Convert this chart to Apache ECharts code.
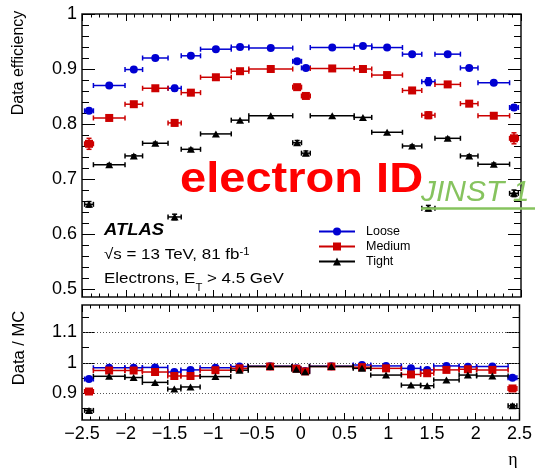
<!DOCTYPE html>
<html>
<head>
<meta charset="utf-8">
<script src="https://cdn.jsdelivr.net/npm/echarts@6/dist/echarts.min.js"></script>
<style>
  html, body { margin: 0; padding: 0; background: #fff; }
  #chart { width: 535px; height: 468px; }
</style>
</head>
<body>
<div id="chart"></div>
<script>
// ---- data ----
const binEdges = [-2.47, -2.37, -2.01, -1.81, -1.52, -1.37, -1.15, -0.8, -0.6, -0.1, 0,
                  0.1, 0.6, 0.8, 1.15, 1.37, 1.52, 1.81, 2.01, 2.37, 2.47];
const etaCenters = [-2.42, -2.19, -1.91, -1.665, -1.445, -1.26, -0.975, -0.7, -0.35, -0.05,
                    0.05, 0.35, 0.7, 0.975, 1.26, 1.445, 1.665, 1.91, 2.19, 2.42];

// data efficiency (upper panel)
const effLoose  = [0.824, 0.870, 0.899, 0.920, 0.865, 0.924, 0.936, 0.940, 0.938, 0.914,
                   0.902, 0.939, 0.942, 0.939, 0.927, 0.877, 0.927, 0.902, 0.875, 0.830];
const effMedium = [0.764, 0.811, 0.836, 0.865, 0.802, 0.857, 0.885, 0.896, 0.900, 0.867,
                   0.851, 0.901, 0.900, 0.889, 0.861, 0.816, 0.872, 0.837, 0.815, 0.774];
const effTight  = [0.654, 0.726, 0.742, 0.765, 0.631, 0.754, 0.782, 0.807, 0.815, 0.766,
                   0.747, 0.815, 0.812, 0.785, 0.760, 0.647, 0.774, 0.742, 0.727, 0.674];
const effLooseErr  = [0.004, 0.001, 0.002, 0.002, 0.005, 0.002, 0.001, 0.001, 0.001, 0.002,
                      0.002, 0.001, 0.001, 0.001, 0.002, 0.007, 0.002, 0.002, 0.001, 0.005];
const effMediumErr = [0.010, 0.002, 0.002, 0.002, 0.005, 0.002, 0.001, 0.001, 0.001, 0.002,
                      0.002, 0.001, 0.001, 0.001, 0.002, 0.006, 0.002, 0.002, 0.002, 0.010];
const effTightErr  = [0.005, 0.002, 0.002, 0.002, 0.005, 0.002, 0.001, 0.001, 0.001, 0.004,
                      0.004, 0.001, 0.001, 0.001, 0.002, 0.005, 0.002, 0.002, 0.002, 0.006];

// data / MC (lower panel)
const sfLoose  = [0.947, 0.984, 0.984, 0.985, 0.970, 0.977, 0.984, 0.988, 0.989, 0.982,
                  0.973, 0.989, 0.993, 0.990, 0.982, 0.977, 0.990, 0.987, 0.988, 0.951];
const sfMedium = [0.906, 0.975, 0.975, 0.970, 0.957, 0.957, 0.976, 0.982, 0.988, 0.981,
                  0.972, 0.988, 0.986, 0.982, 0.962, 0.966, 0.977, 0.979, 0.977, 0.916];
const sfTight  = [0.844, 0.956, 0.952, 0.936, 0.914, 0.921, 0.955, 0.976, 0.988, 0.979,
                  0.971, 0.988, 0.982, 0.960, 0.927, 0.925, 0.944, 0.960, 0.957, 0.859];
const sfLooseErr  = [0.003, 0.001, 0.001, 0.001, 0.002, 0.001, 0.001, 0.001, 0.001, 0.002,
                     0.002, 0.001, 0.001, 0.001, 0.001, 0.003, 0.001, 0.001, 0.001, 0.003];
const sfMediumErr = [0.004, 0.001, 0.001, 0.001, 0.002, 0.001, 0.001, 0.001, 0.001, 0.002,
                     0.002, 0.001, 0.001, 0.001, 0.001, 0.003, 0.001, 0.001, 0.001, 0.004];
const sfTightErr  = [0.005, 0.002, 0.002, 0.002, 0.003, 0.002, 0.001, 0.001, 0.001, 0.003,
                     0.003, 0.001, 0.001, 0.002, 0.002, 0.003, 0.002, 0.002, 0.002, 0.005];

const ratioGuides = [0.9, 1.0, 1.1];

// tick values
const effMajor = [0.5, 0.6, 0.7, 0.8, 0.9, 1.0];
const ratioMajor = [0.9, 1.0, 1.1];
const ratioMinor = [0.85, 0.95, 1.05, 1.15];

const FONT = '"Liberation Sans", Arial, Helvetica, sans-serif';
const BLUE = '#0000d2', RED = '#cc0000', BLACK = '#000000';

function steps(a, b, s) {
  const out = [];
  for (let v = a; v <= b + 1e-9; v += s) out.push(Math.round(v * 1000) / 1000);
  return out;
}
const effMinor = steps(0.5, 1.0, 0.02);

function fmtNum(v) {
  const r = Math.round(v * 100) / 100;
  return r < 0 ? '\u2212' + (-r) : String(r);
}

function yAx(grid, pos, min, max, ticks, len, labels) {
  return {
    type: 'value', gridIndex: grid, position: pos, min: min, max: max,
    axisLine: { show: false, onZero: false },
    splitLine: { show: false },
    axisTick: { show: true, inside: true, length: len, customValues: ticks,
                lineStyle: { color: '#000', width: 1 } },
    axisLabel: { show: labels, customValues: ticks, margin: 5, fontSize: 18,
                 fontFamily: FONT, color: '#000', formatter: fmtNum }
  };
}

function xAx(grid, pos, labels) {
  return {
    type: 'value', gridIndex: grid, position: pos, min: -2.5, max: 2.5, interval: 0.5,
    axisLine: { show: false, onZero: false },
    splitLine: { show: false },
    axisTick: { show: true, inside: true, length: 7, lineStyle: { color: '#000', width: 1 } },
    minorTick: { show: true, splitNumber: 5, length: 3.5, lineStyle: { color: '#000', width: 1 } },
    axisLabel: { show: labels, margin: 5, fontSize: 18, fontFamily: FONT, color: '#000',
                 showMinLabel: true, showMaxLabel: true, formatter: fmtNum }
  };
}

function rows(vals, errs) {
  return etaCenters.map((x, i) => [x, vals[i], binEdges[i], binEdges[i + 1], errs[i]]);
}

function errBars(name, vals, errs, color, xi, yi) {
  return {
    type: 'custom', name: name + ' err', xAxisIndex: xi, yAxisIndex: yi,
    data: rows(vals, errs), encode: { x: 0, y: 1 }, silent: true, z: 2,
    renderItem: function (params, api) {
      const x = api.value(0), y = api.value(1);
      const lo = api.value(2), hi = api.value(3), e = api.value(4);
      const pL = api.coord([lo, y]), pR = api.coord([hi, y]);
      const pT = api.coord([x, y + e]), pB = api.coord([x, y - e]);
      const st = { stroke: color, lineWidth: 1.5 };
      const c = 2.5;
      const seg = (x1, y1, x2, y2) => ({ type: 'line', shape: { x1, y1, x2, y2 }, style: st });
      const kids = [
        seg(pL[0], pL[1], pR[0], pR[1]),
        seg(pL[0], pL[1] - c, pL[0], pL[1] + c),
        seg(pR[0], pR[1] - c, pR[0], pR[1] + c)
      ];
      if (pB[1] - pT[1] > 2) {
        kids.push(seg(pT[0], pT[1], pB[0], pB[1]));
        kids.push(seg(pT[0] - c, pT[1], pT[0] + c, pT[1]));
        kids.push(seg(pB[0] - c, pB[1], pB[0] + c, pB[1]));
      }
      return { type: 'group', children: kids };
    }
  };
}

function markers(name, vals, color, symbol, size, xi, yi, extra) {
  return Object.assign({
    type: 'line', name: name, xAxisIndex: xi, yAxisIndex: yi,
    data: etaCenters.map((x, i) => [x, vals[i]]),
    symbol: symbol, symbolSize: size, showSymbol: true, z: 3,
    itemStyle: { color: color }, lineStyle: { opacity: 0, width: 0 },
    emphasis: { disabled: true }, silent: true
  }, extra || {});
}

const chart = echarts.init(document.getElementById('chart'), null, { renderer: 'canvas' });

const option = {
  animation: false,
  backgroundColor: '#ffffff',
  grid: [
    { left: 82, right: 14, top: 14, height: 283, show: true, borderColor: '#111', borderWidth: 1.5, backgroundColor: 'transparent' },
    { left: 82, right: 14, top: 305, height: 115, show: true, borderColor: '#111', borderWidth: 1.5, backgroundColor: 'transparent' }
  ],
  xAxis: [
    xAx(0, 'bottom', false),
    xAx(0, 'top', false),
    xAx(1, 'bottom', true),
    xAx(1, 'top', false)
  ],
  yAxis: [
    yAx(0, 'left', 0.4855, 1.0, effMajor, 13, true),
    yAx(0, 'left', 0.4855, 1.0, effMinor, 7, false),
    yAx(0, 'right', 0.4855, 1.0, effMajor, 13, false),
    yAx(0, 'right', 0.4855, 1.0, effMinor, 7, false),
    yAx(1, 'left', 0.8125, 1.19, ratioMajor, 13, true),
    yAx(1, 'left', 0.8125, 1.19, ratioMinor, 7, false),
    yAx(1, 'right', 0.8125, 1.19, ratioMajor, 13, false),
    yAx(1, 'right', 0.8125, 1.19, ratioMinor, 7, false)
  ],
  legend: {
    orient: 'vertical', left: 318, top: 225, padding: 0,
    itemWidth: 36, itemHeight: 10, itemGap: 2,
    textStyle: { fontSize: 12.5, lineHeight: 13, fontFamily: FONT, color: '#000', padding: [0, 0, 0, 6] },
    data: [
      { name: 'Loose', lineStyle: { color: BLUE, width: 2, opacity: 1 } },
      { name: 'Medium', lineStyle: { color: RED, width: 2, opacity: 1 } },
      { name: 'Tight', lineStyle: { color: BLACK, width: 2, opacity: 1 } }
    ]
  },
  series: [
    errBars('Loose', effLoose, effLooseErr, BLUE, 0, 0),
    markers('Loose', effLoose, BLUE, 'circle', 8, 0, 0),
    errBars('Medium', effMedium, effMediumErr, RED, 0, 0),
    markers('Medium', effMedium, RED, 'rect', 8, 0, 0),
    errBars('Tight', effTight, effTightErr, BLACK, 0, 0),
    markers('Tight', effTight, BLACK, 'triangle', [8, 7], 0, 0),

    errBars('Loose', sfLoose, sfLooseErr, BLUE, 2, 4),
    markers('Loose', sfLoose, BLUE, 'circle', 8, 2, 4, {
      markLine: {
        silent: true, symbol: 'none', z: 1,
        label: { show: false },
        lineStyle: { color: '#555', type: [1, 2], width: 1 },
        data: ratioGuides.map(v => ({ yAxis: v }))
      }
    }),
    errBars('Medium', sfMedium, sfMediumErr, RED, 2, 4),
    markers('Medium', sfMedium, RED, 'rect', 8, 2, 4),
    errBars('Tight', sfTight, sfTightErr, BLACK, 2, 4),
    markers('Tight', sfTight, BLACK, 'triangle', [8, 7], 2, 4)
  ],
  graphic: [
    { type: 'text', x: 19, y: 63, rotation: Math.PI / 2,
      style: { text: 'Data efficiency', fontSize: 16, fontFamily: FONT, fill: '#000',
               align: 'center', verticalAlign: 'middle' } },
    { type: 'text', x: 19, y: 348, rotation: Math.PI / 2,
      style: { text: 'Data / MC', fontSize: 16.5, fontFamily: FONT, fill: '#000',
               align: 'center', verticalAlign: 'middle' } },
    { type: 'text', x: 513, y: 460,
      style: { text: '\u03b7', fontSize: 18, fontFamily: '"Liberation Serif", serif', fill: '#000',
               align: 'center', verticalAlign: 'middle' } },
    { type: 'text', x: 104, y: 231, scaleX: 1.15,
      style: { text: 'ATLAS', fontSize: 16, fontWeight: 'bold', fontStyle: 'italic',
               fontFamily: FONT, fill: '#000', align: 'left', verticalAlign: 'middle' } },
    { type: 'text', x: 104, y: 255, scaleX: 1.13,
      style: { text: '\u221As = 13 TeV, 81 fb{sup|-1}', fontSize: 15, lineHeight: 16,
               fontFamily: FONT, fill: '#000', align: 'left', verticalAlign: 'middle',
               rich: { sup: { fontSize: 10, lineHeight: 10, verticalAlign: 'top', fontFamily: FONT } } } },
    { type: 'text', x: 104, y: 279, scaleX: 1.13,
      style: { text: 'Electrons, E{sub|T} > 4.5 GeV', fontSize: 15, lineHeight: 28,
               fontFamily: FONT, fill: '#000', align: 'left', verticalAlign: 'middle',
               rich: { sub: { fontSize: 10, lineHeight: 10, verticalAlign: 'bottom', fontFamily: FONT } } } },
    { type: 'text', x: 180, y: 180, scaleX: 1.12, z: 10,
      style: { text: 'electron ID', fontSize: 42, fontWeight: 'bold', fontFamily: FONT,
               fill: '#ff0000', align: 'left', verticalAlign: 'middle' } },
    { type: 'text', x: 421, y: 193, z: 10,
      style: { text: 'JINST 1', fontSize: 30, fontStyle: 'italic', fontFamily: FONT,
               fill: '#86c35e', align: 'left', verticalAlign: 'middle' } },
    { type: 'line', z: 10, shape: { x1: 421, y1: 208.5, x2: 535, y2: 208.5 },
      style: { stroke: '#86c35e', lineWidth: 2.5 } }
  ]
};

chart.setOption(option);
</script>
</body>
</html>
